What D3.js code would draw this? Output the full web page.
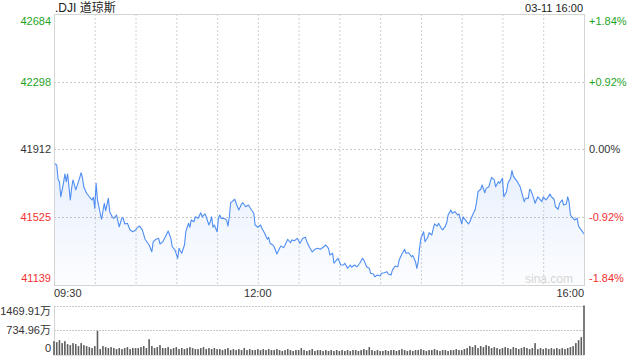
<!DOCTYPE html>
<html><head><meta charset="utf-8">
<script src="https://cdn.jsdelivr.net/npm/d3@7/dist/d3.min.js"></script>
<style>
html,body{margin:0;padding:0;background:#fff;}
svg{display:block;font-family:"Liberation Sans",Arial,"Noto Sans CJK SC",sans-serif;}
</style></head>
<body><svg id="c" width="640" height="360"></svg>
<script>
const title = ".DJI 道琼斯";
const stamp = "03-11 16:00";
const priceTicks = [42684, 42298, 41912, 41525, 41139];
const pctTicks = ["+1.84%", "+0.92%", "0.00%", "-0.92%", "-1.84%"];
const timeTicks = [0, 150, 390];
const timeLabels = ["09:30", "12:00", "16:00"];
const volTicks = [1469.91, 734.96, 0];
const volLabels = ["1469.91万", "734.96万", "0"];

const minuteOffsets = [0,2,3,4,5,7,8,9,10,11,12,13,14,16,18,20,21,22,24,26,28,29,30,31,32,34,35,37,38,40,41,43,44,46,48,50,51,52,54,56,58,60,62,63,65,67,70,72,73,75,77,78,80,82,84,86,87,89,91,92,93,94,96,97,
99,100,101,103,104,106,108,109,111,112,114,115,116,117,118,120,121,122,123,125,127,128,129,130,131,133,135,136,138,139,141,143,145,147,148,150,152,153,155,157,158,159,161,162,164,166,167,169,170,172,174,175,177,179,181,183,185,186,188,190,192,194,
196,198,200,202,203,205,206,208,209,211,213,214,216,218,219,221,223,225,227,228,230,232,233,235,236,238,240,241,243,245,246,248,249,251,253,254,256,258,259,261,263,264,266,267,268,269,270,272,273,275,276,278,279,280,282,283,285,286,288,289,290,292,293,
295,297,298,300,301,303,305,306,308,310,311,312,314,315,317,318,320,321,322,324,325,327,328,330,331,333,334,336,337,338,340,341,343,344,346,347,349,350,351,353,354,356,357,359,360,362,363,365,366,368,369,371,372,374,375,377,378,379,380,382,383,385,386,387,388,390];

const prices = [41833,41823,41742,41728,41642,41721,41772,41728,41772,41699,41624,41692,41738,41681,41728,41779,41747,41696,41662,41642,41624,41639,41576,41719,41624,41548,41514,41605,41563,41633,41557,41525,41519,41538,41471,41523,41519,41487,41491,41453,41443,41453,41471,41475,41453,41400,41367,41329,41386,41400,41405,41373,41386,41414,41447,41405,41357,41339,41291,41348,41333,41320,41367,41443,
41491,41468,41510,41500,41528,41519,41551,41528,41544,41528,41481,41500,41528,41468,41481,41443,41519,41538,41519,41519,41510,41475,41528,41608,41614,41628,41585,41567,41601,41608,41585,41595,41571,41548,41481,41468,41481,41462,41434,41400,41411,41377,41367,41357,41316,41348,41361,41352,41367,41400,41380,41396,41392,41405,41377,41405,41411,41386,41354,41327,41343,41348,
41343,41354,41367,41348,41310,41320,41263,41282,41291,41253,41253,41263,41234,41253,41240,41253,41243,41263,41291,41282,41243,41234,41206,41202,41186,41196,41190,41206,41209,41215,41202,41196,41224,41247,41243,41282,41316,41343,41320,41323,41300,41308,41272,41234,41272,41348,41405,41443,41386,41411,41437,41424,41457,41487,41475,41491,41462,41453,41475,41494,41538,41567,41548,
41557,41538,41544,41487,41528,41506,41487,41500,41538,41571,41614,41671,41685,41709,41665,41690,41699,41728,41753,41738,41699,41728,41719,41747,41642,41671,41719,41747,41791,41760,41738,41728,41699,41671,41614,41633,41633,41685,41677,41633,41605,41642,41633,41614,41642,41624,41633,41658,41642,41628,41585,41571,41605,41624,41595,41601,41642,41614,41538,41519,41510,41519,41475,41462,41453,41430];

// volume per 2-minute bar, in 万
const volumes = [412,382,441,353,412,323,294,353,323,265, 353,294,265,235,206,265, 715,
176,265,235,206,235,206,176,206,176,206,235,176,206,206, 206,235,265,206, 470, 265,206,235,294,206,
206,235,176,206,235,176,206,176,206,235,206,176,176,206,235,176,206,176,206,176,
176,147,176,206,147,176,147,176,147,206,147,176,147,147,176,147,176,147,176,147,
147,176,147,118,147,176,147,118,147,147,206,147,118,147,176,118,147,147,118,147,
118,147,118,147,118,147,118,147,118,147,147,118,147,176,147,235,147,118,147,118,
118,147,118,147,147,118,147,176,147,118,147,118,147,147,176,147,118,147,147,176,
147,118,147,147,118,147,147,176,147,147,176,206,265,235,294,
206,265,235,294,265,206,235,206,176,206,235,206,176,235,206,
176,206,235,206,176,206,353,176,206,176,206,176,206,
176,206,176,206,176,206,235,265,353,441,530, 1469.91];

const svg = d3.select("#c");
const L = 54, R = 584, T = 14, B = 285;
const VT = 305.5, VB = 355;
const x = d3.scaleLinear().domain([0, 390]).range([L, R]);
const y = d3.scaleLinear().domain([priceTicks[4], priceTicks[0]]).range([B, T]);
const yv = d3.scaleLinear().domain([0, volTicks[0]]).range([VB, VT]);

const green = "#1fa51f", red = "#f03232", dark = "#333";
const colorFor = i => i < 2 ? green : (i === 2 ? dark : red);

// gradient
const defs = svg.append("defs");
const g = defs.append("linearGradient").attr("id", "ag").attr("x1", 0).attr("y1", 0).attr("x2", 0).attr("y2", 1);
g.append("stop").attr("offset", "0%").attr("stop-color", "#5b93f0").attr("stop-opacity", 0.14);
g.append("stop").attr("offset", "100%").attr("stop-color", "#5b93f0").attr("stop-opacity", 0.02);

// vertical grid
svg.append("g").selectAll("line").data(d3.range(30, 390, 30)).join("line")
  .attr("x1", d => x(d) + 0.5).attr("x2", d => x(d) + 0.5).attr("y1", T).attr("y2", B)
  .attr("stroke", "#d0d0d0").attr("stroke-dasharray", "2,2");
// horizontal grid
svg.append("g").selectAll("line").data(priceTicks.slice(1, 4)).join("line")
  .attr("x1", L).attr("x2", R).attr("y1", d => Math.round(y(d)) + 0.5).attr("y2", d => Math.round(y(d)) + 0.5)
  .attr("stroke", "#c8c8c8").attr("stroke-dasharray", "2,2");

const pts = minuteOffsets.map((m, i) => [m, prices[i]]);
svg.append("path").datum(pts)
  .attr("d", d3.area().x(d => x(d[0])).y0(B).y1(d => y(d[1])))
  .attr("fill", "url(#ag)");
svg.append("path").datum(pts)
  .attr("d", d3.line().x(d => x(d[0])).y(d => y(d[1])))
  .attr("fill", "none").attr("stroke", "#4f8ef2").attr("stroke-width", 1.1).attr("stroke-linejoin", "round");

// frame
svg.append("rect").attr("x", L + 0.5).attr("y", T + 0.5).attr("width", R - L).attr("height", B - T)
  .attr("fill", "none").attr("stroke", "#d4d4d4");

// watermark
svg.append("text").attr("x", 573).attr("y", 283).attr("text-anchor", "end")
  .attr("font-size", 12).attr("fill", "#d6d6d6").text("sina.com");

// price labels
const labY = (d, i) => i === 0 ? y(d) + 10.5 : (i === 4 ? y(d) - 3.5 : y(d) + 4);
svg.append("g").selectAll("text").data(priceTicks).join("text")
  .attr("x", 51).attr("y", labY).attr("text-anchor", "end").attr("font-size", 11)
  .attr("fill", (d, i) => colorFor(i)).text(d => d);
svg.append("g").selectAll("text").data(pctTicks).join("text")
  .attr("x", 589).attr("y", (d, i) => labY(priceTicks[i], i)).attr("text-anchor", "start").attr("font-size", 11)
  .attr("fill", (d, i) => colorFor(i)).text(d => d);

// time labels
svg.append("g").selectAll("text").data(timeTicks).join("text")
  .attr("x", d => x(d)).attr("y", 297).attr("font-size", 11).attr("fill", dark)
  .attr("text-anchor", (d, i) => i === 0 ? "start" : (i === 2 ? "end" : "middle"))
  .text((d, i) => timeLabels[i]);

// title
svg.append("text").attr("x", 55).attr("y", 12).attr("font-size", 12).attr("fill", "#222").text(title);
svg.append("text").attr("x", 583).attr("y", 12).attr("font-size", 11).attr("fill", "#222").attr("text-anchor", "end").text(stamp);

// volume panel
svg.append("g").selectAll("line").data(volTicks.slice(0, 2)).join("line")
  .attr("x1", L).attr("x2", R).attr("y1", d => Math.round(yv(d)) + 0.5).attr("y2", d => Math.round(yv(d)) + 0.5)
  .attr("stroke", "#c8c8c8").attr("stroke-dasharray", "2,1");
svg.append("line").attr("x1", L + 0.5).attr("x2", L + 0.5).attr("y1", VT).attr("y2", VB + 1).attr("stroke", "#d4d4d4");
svg.append("line").attr("x1", L).attr("x2", R).attr("y1", VB + 0.5).attr("y2", VB + 0.5).attr("stroke", "#e0e0e0");
svg.append("g").selectAll("rect").data(volumes).join("rect")
  .attr("x", (d, i) => x(i * 2) - 0.8).attr("width", 1.6)
  .attr("y", d => yv(d)).attr("height", d => VB - yv(d))
  .attr("fill", "#5e5e5e");
const vLabY = [311 + 4, 330 + 4, 348 + 4];
svg.append("g").selectAll("text").data(volLabels).join("text")
  .attr("x", 51).attr("y", (d, i) => vLabY[i]).attr("text-anchor", "end").attr("font-size", 11)
  .attr("fill", dark).text(d => d);
</script></body></html>
